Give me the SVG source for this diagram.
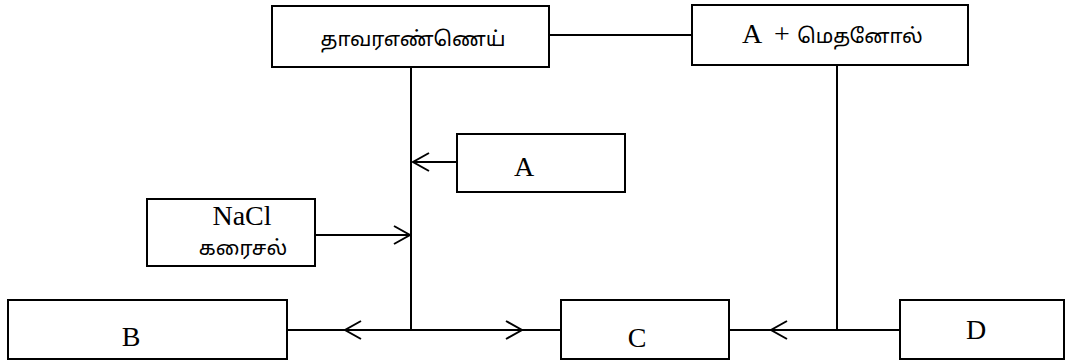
<svg xmlns="http://www.w3.org/2000/svg" width="1067" height="363" viewBox="0 0 1067 363">
<style>
.box{fill:#fff;stroke:#000;stroke-width:2}
.ln{fill:none;stroke:#000;stroke-width:2}
.lat{font-family:"Liberation Serif","Times New Roman",serif;font-size:28px;fill:#000;text-anchor:middle}
.tam{font-family:"Noto Sans Tamil","Latha","Noto Sans",sans-serif;font-size:20.5px;fill:#000;text-anchor:middle}
</style>
<defs>
<marker id="arr" viewBox="0 0 20 20" refX="18" refY="10" markerWidth="20" markerHeight="20" markerUnits="userSpaceOnUse" orient="auto">
<path d="M2,1 L18,10 L2,19" fill="none" stroke="#000" stroke-width="2"/>
</marker>
</defs>
<g id="connectors">
<line class="ln" x1="549" y1="35" x2="692" y2="35"/>
<line class="ln" x1="411" y1="67" x2="411" y2="330"/>
<line class="ln" x1="837" y1="65" x2="837" y2="330"/>
<line class="ln" x1="457" y1="162" x2="413" y2="162" marker-end="url(#arr)"/>
<line class="ln" x1="316" y1="235" x2="410" y2="235" marker-end="url(#arr)"/>
<line class="ln" x1="287" y1="330" x2="345" y2="330"/>
<line class="ln" x1="411" y1="330" x2="345" y2="330" marker-end="url(#arr)"/>
<line class="ln" x1="411" y1="330" x2="522" y2="330" marker-end="url(#arr)"/>
<line class="ln" x1="522" y1="330" x2="561" y2="330"/>
<line class="ln" x1="900" y1="330" x2="771" y2="330" marker-end="url(#arr)"/>
<line class="ln" x1="771" y1="330" x2="729" y2="330"/>
</g>
<g id="oil">
<rect class="box" x="272" y="6" width="277" height="61"/>
<text class="tam" x="413" y="46">தாவரஎண்ணெய்</text>
</g>
<g id="methanol">
<rect class="box" x="692" y="5" width="276" height="60"/>
<text class="lat" x="752" y="43">A</text>
<text class="lat" x="782" y="43">+</text>
<text class="tam" x="860" y="43">மெதனோல்</text>
</g>
<g id="A">
<rect class="box" x="457" y="134" width="168" height="58"/>
<text class="lat" x="524" y="176">A</text>
</g>
<g id="nacl">
<rect class="box" x="147" y="199" width="168" height="67"/>
<text class="lat" x="242" y="225">NaCl</text>
<text class="tam" x="243" y="255">கரைசல்</text>
</g>
<g id="B">
<rect class="box" x="8" y="300" width="279" height="59"/>
<text class="lat" x="131" y="346">B</text>
</g>
<g id="C">
<rect class="box" x="561" y="300" width="168" height="59"/>
<text class="lat" x="637" y="347">C</text>
</g>
<g id="D">
<rect class="box" x="900" y="300" width="164" height="59"/>
<text class="lat" x="976" y="339">D</text>
</g>
</svg>
